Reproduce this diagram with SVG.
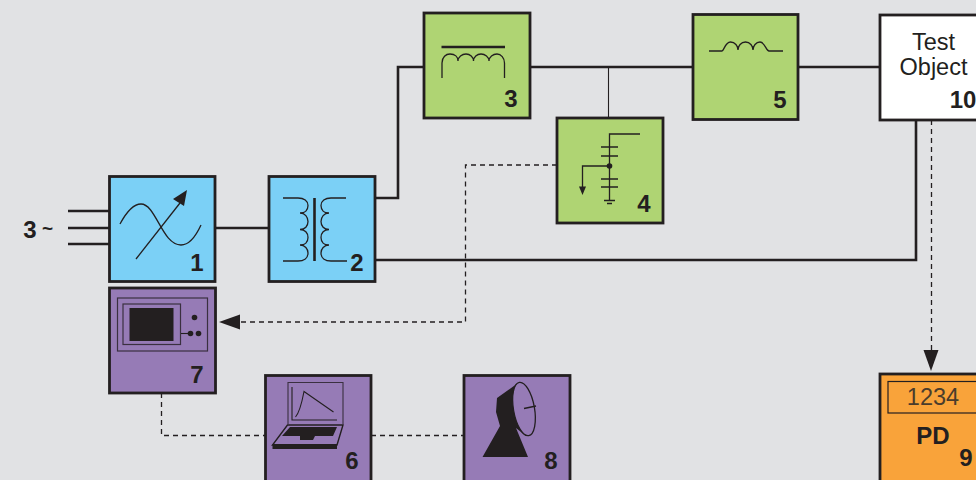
<svg xmlns="http://www.w3.org/2000/svg" width="976" height="480" viewBox="0 0 976 480">
<style>
text{font-family:"Liberation Sans",Arial,sans-serif;fill:#231f20}
.n{font-weight:bold;font-size:24px;text-anchor:middle}
.t{font-size:23.500px;text-anchor:middle}
.box{stroke:#231f20;stroke-width:2.800}
.blue{fill:#7bd0f6}.green{fill:#afd473}.purple{fill:#967bb6}.orange{fill:#f9a33a}.white{fill:#fff}
.w{fill:none;stroke:#231f20;stroke-width:2.600}
.thin{fill:none;stroke:#231f20;stroke-width:1.100}
.dash{fill:none;stroke:#231f20;stroke-width:1.300;stroke-dasharray:5 4}
.sym{fill:none;stroke:#231f20;stroke-width:1.300}
.k{fill:#231f20}
</style>
<rect width="976" height="480" fill="#e1e2e4"/>
<g id="connectors">
<path class="w" d="M68 211H109M68 228H109M68 244H109M215 228H269M375 198H398V67H424M530 67H693M798 67H880M375 260H916V120"/>
<path class="thin" d="M608.500 67V118"/>
<path class="dash" d="M557 165H465.500V322H238"/>
<path class="dash" d="M161.500 393V435.500H265.500M371 435.500H464"/>
<path class="dash" d="M931.500 120V352"/>
<path class="k" d="M219 322L240 314.500V329.500Z"/>
<path class="k" d="M931 371L923.500 350H938.500Z"/>
</g>
<text x="30" y="238" class="n">3</text>
<text x="47.500" y="235" class="n" style="font-size:19px">~</text>
<g id="node1">
<rect class="box blue" x="109.500" y="176.500" width="105.500" height="105"/>
<path class="sym" d="M120 224C127 211 134 204 141 204C156 204 162 245 181 245C189 245 195 238 201 225"/>
<path class="sym" d="M136 259L180 203"/>
<path class="k" d="M187 190L173 199L184 206Z"/>
<text x="197" y="271" class="n">1</text>
</g>
<g id="node2">
<rect class="box blue" x="269" y="176.500" width="106" height="105"/>
<path class="sym" d="M283 198H298C304 198 308 201 308 205.500C308 210 305 213 300 213C305 213 308 217 308 221.500C308 226 305 229.500 300 229.500C305 229.500 308 233 308 237.500C308 242 305 245 300 245C305 245 308 249 308 253C308 258 304 261 298 261H283"/>
<path class="sym" d="M346 198H331C325 198 321 201 321 205.500C321 210 324 213 329 213C324 213 321 217 321 221.500C321 226 324 229.500 329 229.500C324 229.500 321 233 321 237.500C321 242 324 245 329 245C324 245 321 249 321 253C321 258 325 261 331 261H347"/>
<path class="w" d="M314.500 198V261"/>
<text x="357" y="271" class="n">2</text>
</g>
<g id="node3">
<rect class="box green" x="424" y="13" width="106" height="105"/>
<path class="w" d="M441.500 47H505"/>
<path class="sym" d="M442 78V63C442 57 446 54 450 54C455 54 458 57 458 61C458 57 462 54 466 54C470 54 473.500 57 473.500 61C473.500 57 477 54 481 54C485 54 489 57 489 61C489 57 493 54 497 54C501 54 504.500 58 504.500 63V78"/>
<text x="511" y="107" class="n">3</text>
</g>
<g id="node4">
<rect class="box green" x="557" y="118" width="106" height="105"/>
<path class="sym" d="M640 134H609.500V200"/>
<path class="sym" d="M601 147H618M601 156H618M601 179H618M601 187H618M604 200.500H615M607 203.500H612"/>
<path class="sym" d="M609 166H582.500V189"/>
<circle class="k" cx="609.500" cy="166" r="2.800"/>
<path class="k" d="M582.500 195L579 186.500H586Z"/>
<text x="644" y="212" class="n">4</text>
</g>
<g id="node5">
<rect class="box green" x="693" y="14.500" width="105" height="105"/>
<path class="sym" d="M709 51H722C724 51 725 42 730.500 42C735 42 738 46 738 50C738 46 741 42 745.500 42C750 42 753 46 753 50C753 46 756 42 760 42C765 42 766 51 769 51H783"/>
<text x="780" y="108" class="n">5</text>
</g>
<g id="node10">
<rect class="box white" x="880" y="15" width="100" height="105"/>
<text x="933.500" y="50" class="t">Test</text>
<text x="933.500" y="75" class="t">Object</text>
<text x="963" y="108" class="n">10</text>
</g>
<g id="node7">
<rect class="box purple" x="109.500" y="288" width="106" height="105"/>
<rect x="117.500" y="298" width="90" height="53" fill="none" stroke="#3a3040" stroke-width="1.200"/>
<rect x="123" y="304" width="57.500" height="40.500" fill="none" stroke="#3a3040" stroke-width="1.200"/>
<rect class="k" x="129.500" y="308" width="44" height="33"/>
<path class="thin" d="M181 333.500H191"/>
<circle class="k" cx="194.500" cy="317.500" r="2.800"/>
<circle class="k" cx="190.500" cy="333.500" r="2.800"/>
<circle class="k" cx="198.500" cy="333.500" r="2.800"/>
<text x="197" y="383" class="n">7</text>
</g>
<g id="node6">
<rect class="box purple" x="265.500" y="375.500" width="105.500" height="106"/>
<path d="M288 424V382.500H343V424" fill="none" stroke="#3a3040" stroke-width="1.100"/>
<path class="thin" d="M292 387V420H337"/>
<path class="thin" d="M295.500 417C300 412 302 402 304 391.500L333.500 412"/>
<path d="M287.500 425H343L337 445H272.500Z" fill="#967bb6" stroke="#231f20" stroke-width="1.400"/>
<path class="k" d="M290 427H337L333 436H315L313 440H300V436H282Z"/>
<path class="k" d="M272.500 444H337V449H272.500Z"/>
<text x="352" y="469" class="n">6</text>
</g>
<g id="node8">
<rect class="box purple" x="464" y="375.500" width="106" height="106"/>
<path class="k" d="M518 383L497 398L496 412L500 426L482.500 457H528L516 428L526 436L524 400Z"/>
<ellipse cx="524" cy="409" rx="10.500" ry="27" transform="rotate(-10 524 409)" fill="#967bb6" stroke="#231f20" stroke-width="1.300"/>
<path class="sym" d="M524 408.500L536 406"/>
<text x="551" y="469" class="n">8</text>
</g>
<g id="node9">
<rect class="box orange" x="880" y="374" width="100" height="108"/>
<rect x="888" y="381.500" width="92" height="31.500" fill="none" stroke="#231f20" stroke-width="1.200"/>
<text x="933" y="405" class="t" style="fill:#4a3c2c">1234</text>
<text x="933" y="444" class="n">PD</text>
<text x="966" y="466" class="n">9</text>
</g>
</svg>
